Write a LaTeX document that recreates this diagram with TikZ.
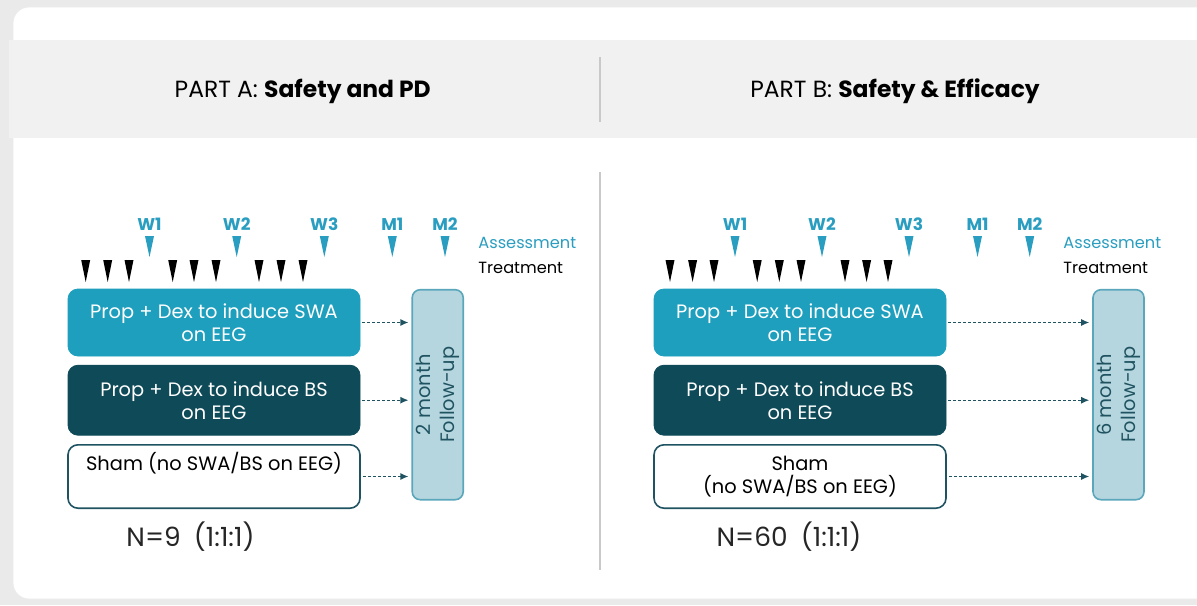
\documentclass[tikz,border=0pt]{standalone}
\usepackage{fontspec}
\setmainfont{Poppins}
\usetikzlibrary{arrows.meta, positioning}

\definecolor{swablue}{HTML}{1E9FBD}
\definecolor{bsteal}{HTML}{0F4A58}
\definecolor{edgeteal}{HTML}{1F5361}
\definecolor{fublue}{HTML}{B6D6DF}
\definecolor{fuedge}{HTML}{5AA7BC}
\definecolor{asscol}{HTML}{2A9EC0}
\definecolor{bandgrey}{HTML}{F1F1F1}
\definecolor{pagegrey}{HTML}{EAEAEA}
\definecolor{divgrey}{HTML}{C9C9C9}

\begin{document}
\begin{tikzpicture}[
    x=0.5pt, y=-0.5pt,
    arm/.style={rounded corners=5pt, minimum width=146pt, align=center, inner sep=0pt,
        font=\fontsize{9.7}{11.5}\selectfont},
    swabox/.style={arm, fill=swablue, draw=swablue, text=white, minimum height=33.5pt},
    bsbox/.style={arm, fill=bsteal, draw=bsteal, text=white, minimum height=35pt},
    shambox/.style={arm, fill=white, draw=edgeteal, line width=0.8pt, minimum height=31.7pt},
    fubox/.style={rounded corners=4pt, fill=fublue, draw=fuedge, line width=0.8pt,
        minimum width=25.5pt, minimum height=105pt, inner sep=0pt},
    futext/.style={rotate=90, align=center, text=edgeteal, font=\fontsize{9.7}{12}\selectfont},
    wklabel/.style={text=asscol, font=\fontsize{8.5}{10}\selectfont\bfseries},
    keytext/.style={anchor=west, inner sep=0pt, font=\fontsize{8.1}{10}\selectfont},
    title/.style={font=\fontsize{11.7}{14}\selectfont},
    ncount/.style={font=\fontsize{13.2}{16}\selectfont, text=black!85},
    flow/.style={-{Latex[length=4pt,width=3.5pt]}, edgeteal, line width=0.6pt,
        dash pattern=on 1.5pt off 1pt, shorten <=1pt, shorten >=1.5pt}
]
\useasboundingbox (0,0) rectangle (1197,605);

% Card and header band
\fill[pagegrey] (0,0) rectangle (1197,605);
\fill[white, draw=black!8, rounded corners=8pt] (13,7) rectangle (1240,599);
\fill[bandgrey] (9,40) rectangle (1197,138);
\draw[divgrey, line width=1pt] (600,57) -- (600,122);
\draw[divgrey, line width=1pt] (600,172) -- (600,570);

% Titles
\node[title] (titleA) at (302.7,91) {PART A: \textbf{Safety and PD}};
\node[title] (titleB) at (895,91) {PART B: \textbf{Safety \& Efficacy}};

% Part A
\foreach \x/\t in {149.5/W1, 236.7/W2, 324.3/W3, 392.3/M1, 445/M2} {
    \node[wklabel] (wA\t) at (\x,224) {\t};
    \fill[asscol] (\x-4.5,236) -- (\x+4.5,236) -- (\x,257) -- cycle;
}
\foreach \x in {85.7, 107.7, 129, 172.7, 194, 216, 259, 281, 303}
    \fill[black] (\x-4.5,260) -- (\x+4.5,260) -- (\x,282) -- cycle;
\node[keytext, text=asscol] (assA) at (478,242.5) {Assessment};
\node[keytext] (trtA) at (478,268) {Treatment};

\node[swabox] (swaA) at (214,322.5) {Prop + Dex to induce SWA\\on EEG};
\node[bsbox, below=4.2pt of swaA] (bsA) {Prop + Dex to induce BS\\on EEG};
\node[shambox, below=4.2pt of bsA] (shamA) {Sham (no SWA/BS on EEG)\\ \strut};
\node[fubox] (fuA) at (437.7,394.7) {};
\node[futext] (futA) at (fuA.center) {2 month\\Follow-up};
\node[ncount] (nA) at (190.5,537) {N=9\enspace(1:1:1)};

\draw[flow] (swaA.east) -- (swaA.east -| fuA.west);
\draw[flow] (bsA.east) -- (bsA.east -| fuA.west);
\draw[flow] (shamA.east) -- (shamA.east -| fuA.west);

% Part B
\foreach \x/\t in {735/W1, 822/W2, 909/W3, 977.5/M1, 1029.7/M2} {
    \node[wklabel] (wB\t) at (\x,224) {\t};
    \fill[asscol] (\x-4.5,236) -- (\x+4.5,236) -- (\x,257) -- cycle;
}
\foreach \x in {670, 692.6, 714, 757.2, 779.3, 801, 845, 866.6, 888}
    \fill[black] (\x-4.5,260) -- (\x+4.5,260) -- (\x,282) -- cycle;
\node[keytext, text=asscol] (assB) at (1063,242.5) {Assessment};
\node[keytext] (trtB) at (1063,268) {Treatment};

\node[swabox] (swaB) at (800,322.5) {Prop + Dex to induce SWA\\on EEG};
\node[bsbox, below=4.2pt of swaB] (bsB) {Prop + Dex to induce BS\\on EEG};
\node[shambox, below=4.2pt of bsB] (shamB) {Sham\\(no SWA/BS on EEG)};
\node[fubox] (fuB) at (1118.5,394.7) {};
\node[futext] (futB) at (fuB.center) {6 month\\Follow-up};
\node[ncount] (nB) at (789,537) {N=60\enspace(1:1:1)};

\draw[flow] (swaB.east) -- (swaB.east -| fuB.west);
\draw[flow] (bsB.east) -- (bsB.east -| fuB.west);
\draw[flow] (shamB.east) -- (shamB.east -| fuB.west);

\end{tikzpicture}
\end{document}
